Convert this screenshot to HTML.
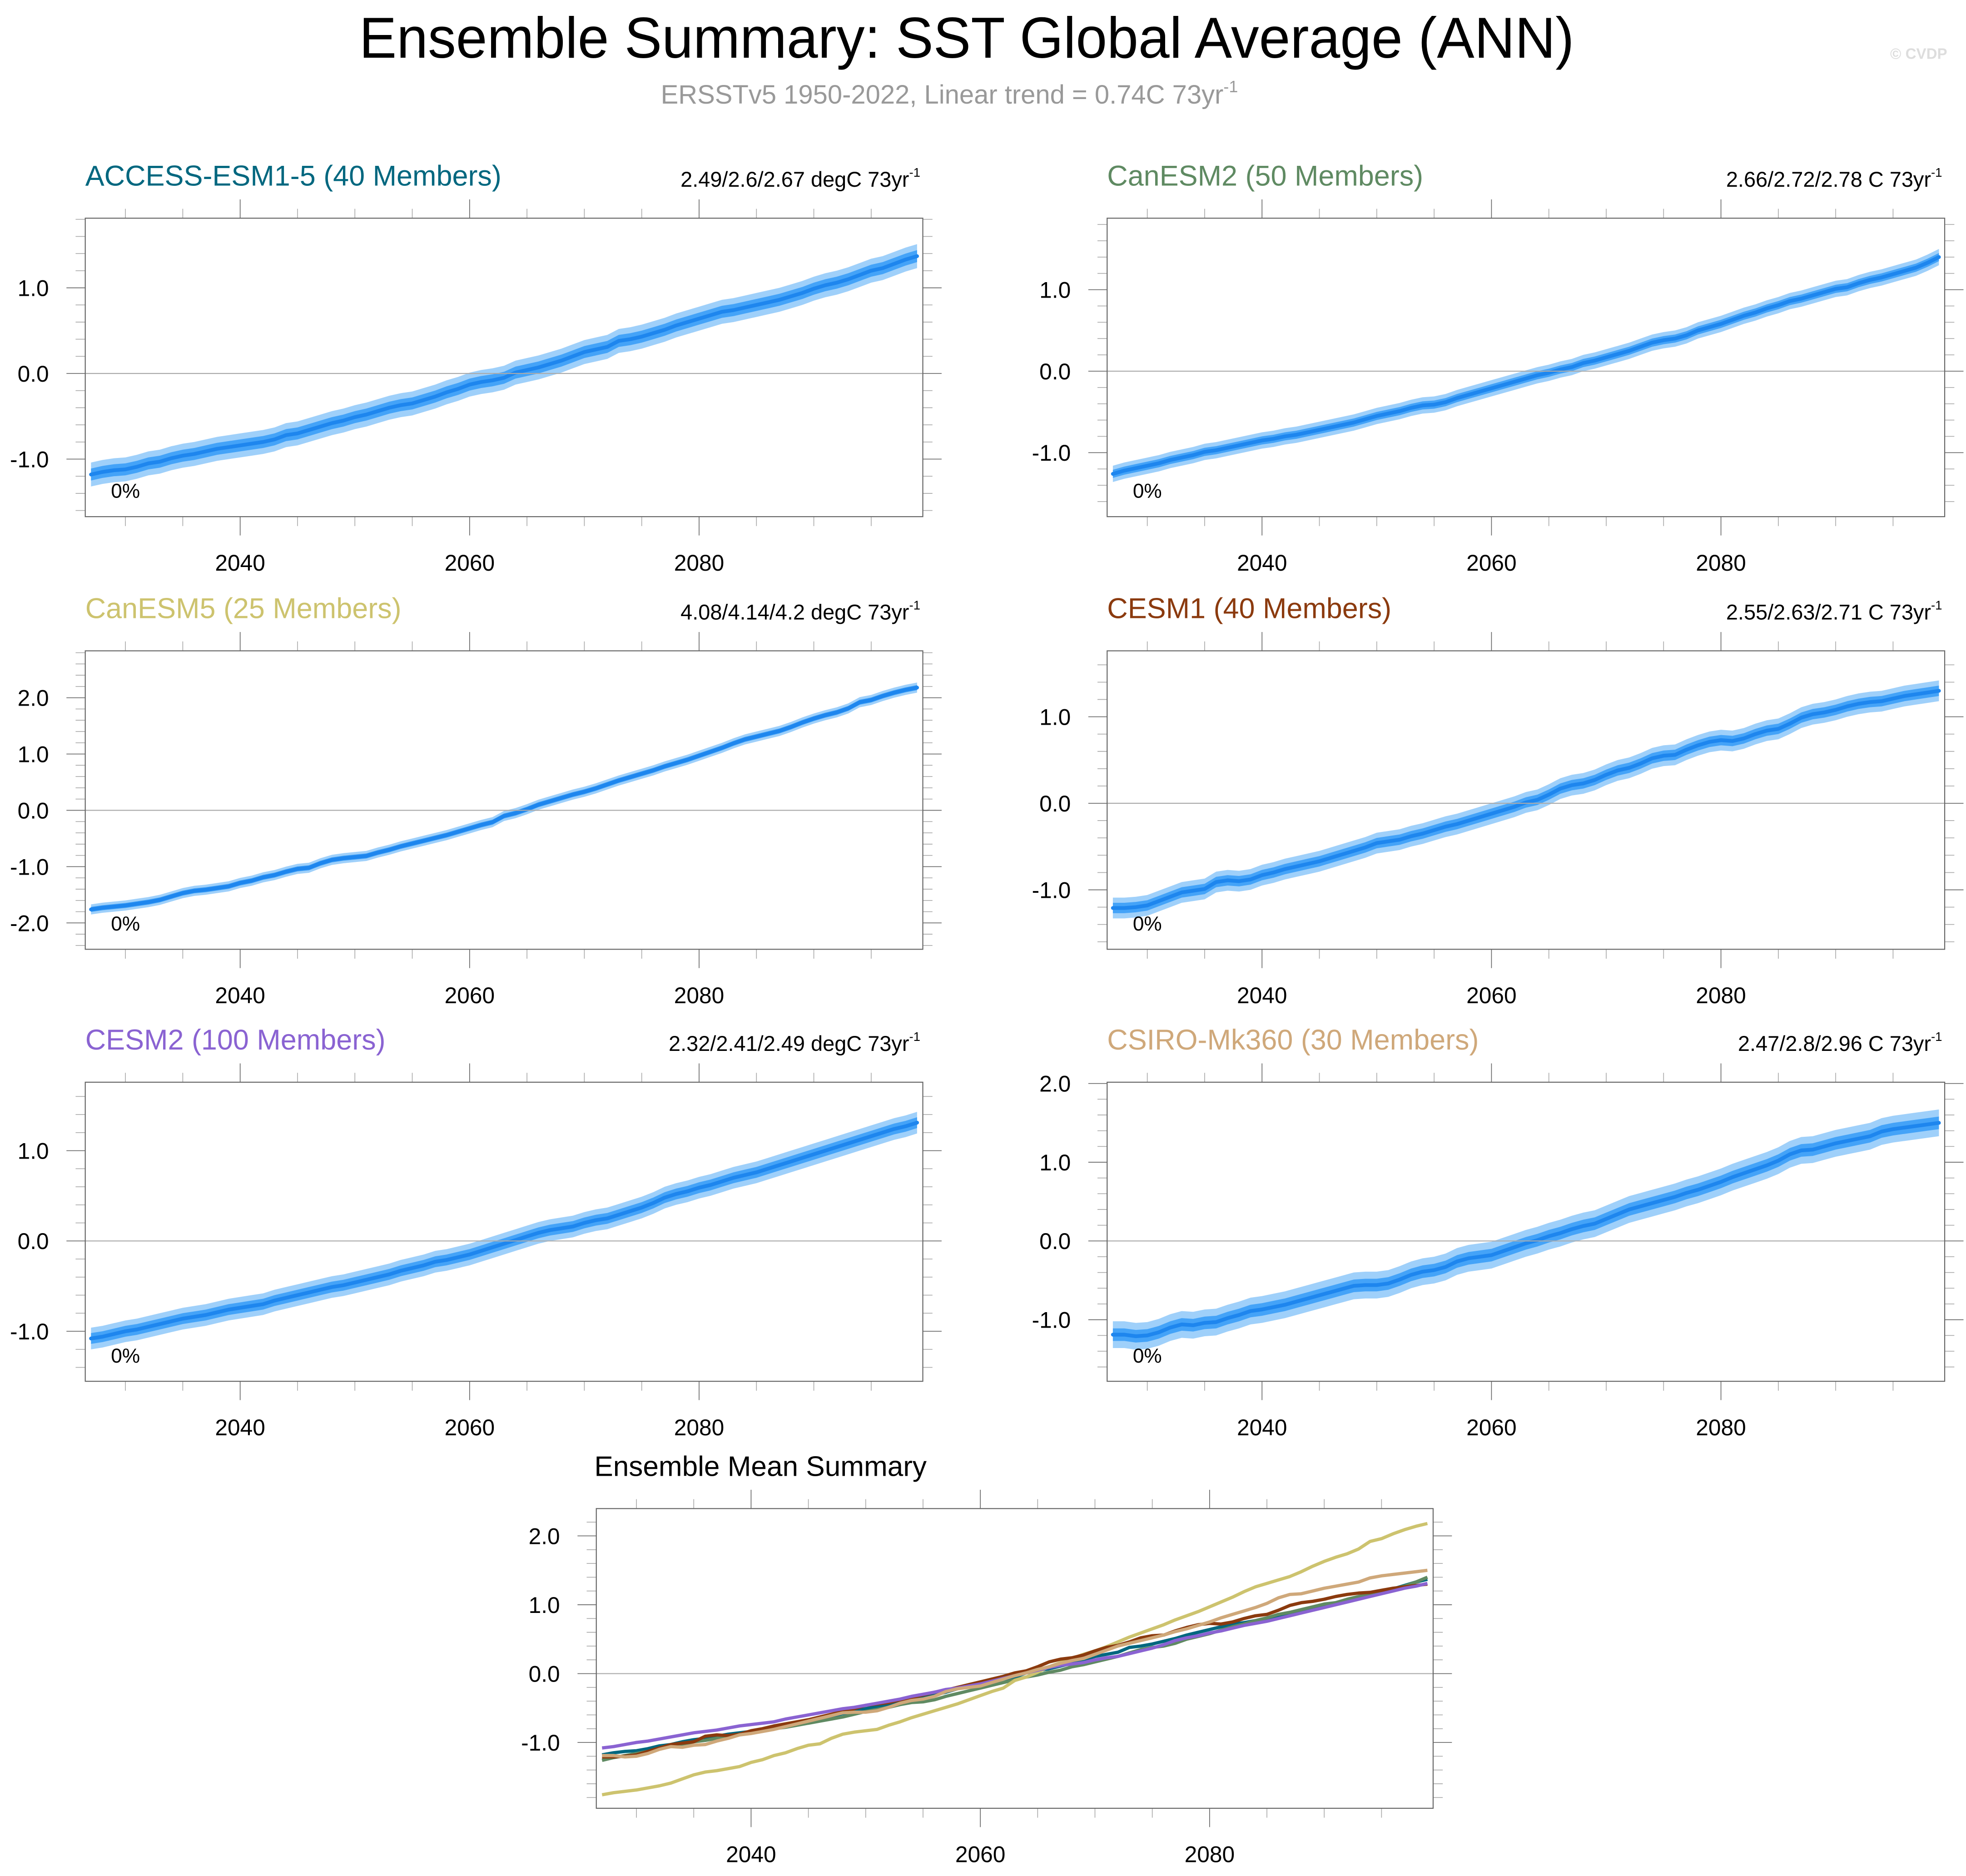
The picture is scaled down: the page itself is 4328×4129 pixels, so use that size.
<!DOCTYPE html>
<html>
<head>
<meta charset="utf-8">
<style>
  html,body{margin:0;padding:0;background:#fff;}
  svg{display:block;}
  text{font-family:"Liberation Sans",Arial,sans-serif;}
</style>
</head>
<body>
<svg id="chart" xmlns="http://www.w3.org/2000/svg" width="4328" height="4129" viewBox="0 0 1568 1496" preserveAspectRatio="none">
  <rect x="0" y="0" width="1568" height="1496" fill="#fff"/>
  <text x="771" y="46" font-size="46" text-anchor="middle" textLength="969" lengthAdjust="spacingAndGlyphs" fill="#000">Ensemble Summary: SST Global Average (ANN)</text>
  <text x="527" y="82.6" font-size="21" fill="#999">ERSSTv5 1950-2022, Linear trend = 0.74C 73yr<tspan font-size="13" dy="-9">-1</tspan></text>
  <text x="1553" y="47" font-size="12" text-anchor="end" fill="#ddd" font-weight="bold">© CVDP</text>
</svg>
<script>
// ---- Data (ensemble means, years 2027..2099) ----
const startYear = 2027;
const xTickLabels = ["2040","2060","2080"];
const yTickMajor = [-2, -1, 0, 1, 2];
const modelNames = ["ACCESS-ESM1-5 (40 Members)","CanESM2 (50 Members)","CanESM5 (25 Members)","CESM1 (40 Members)","CESM2 (100 Members)","CSIRO-Mk360 (30 Members)"];
const trendLabels = ["2.49/2.6/2.67 degC 73yr","2.66/2.72/2.78 C 73yr","4.08/4.14/4.2 degC 73yr","2.55/2.63/2.71 C 73yr","2.32/2.41/2.49 degC 73yr","2.47/2.8/2.96 C 73yr"];
const pctLabels = ["0%","0%","0%","0%","0%","0%"];
const innerHalf = [0.07, 0.05, 0.045, 0.06, 0.06, 0.08];
const outerHalf = [0.14, 0.10, 0.09, 0.12, 0.12, 0.17];

const accessMean = [-1.18,-1.15,-1.13,-1.12,-1.09,-1.05,-1.03,-0.99,-0.96,-0.94,
-0.91,-0.88,-0.86,-0.84,-0.82,-0.80,-0.77,-0.72,-0.70,-0.66,
-0.62,-0.58,-0.55,-0.51,-0.48,-0.44,-0.40,-0.37,-0.35,-0.31,
-0.27,-0.22,-0.18,-0.13,-0.10,-0.08,-0.05,0.01,0.04,0.07,
0.11,0.15,0.20,0.25,0.28,0.31,0.38,0.40,0.43,0.47,
0.51,0.56,0.60,0.64,0.68,0.72,0.74,0.77,0.80,0.83,
0.86,0.90,0.94,0.99,1.03,1.06,1.10,1.15,1.20,1.23,
1.28,1.33,1.37];
const canesm2Mean = [-1.26,-1.22,-1.19,-1.16,-1.13,-1.09,-1.06,-1.03,-0.99,-0.97,
-0.94,-0.91,-0.88,-0.85,-0.83,-0.80,-0.78,-0.75,-0.72,-0.69,
-0.66,-0.63,-0.59,-0.55,-0.52,-0.49,-0.45,-0.42,-0.41,-0.38,
-0.33,-0.29,-0.25,-0.21,-0.17,-0.13,-0.09,-0.05,-0.02,0.02,
0.05,0.10,0.13,0.17,0.21,0.25,0.30,0.35,0.38,0.40,
0.44,0.50,0.54,0.58,0.63,0.68,0.72,0.77,0.81,0.86,
0.89,0.93,0.97,1.01,1.03,1.08,1.12,1.15,1.19,1.23,
1.27,1.33,1.40];
const canesm5Mean = [-1.76,-1.73,-1.71,-1.69,-1.66,-1.63,-1.59,-1.53,-1.47,
-1.43,-1.41,-1.38,-1.35,-1.29,-1.25,-1.19,-1.15,-1.09,
-1.04,-1.02,-0.94,-0.88,-0.85,-0.83,-0.81,-0.75,-0.70,
-0.64,-0.59,-0.54,-0.49,-0.44,-0.38,-0.32,-0.26,-0.21,
-0.10,-0.05,0.02,0.10,0.16,0.22,0.28,0.33,0.39,
0.46,0.53,0.59,0.65,0.71,0.78,0.84,0.90,0.97,
1.04,1.11,1.19,1.26,1.31,1.36,1.41,1.48,1.56,
1.63,1.69,1.74,1.81,1.92,1.96,2.03,2.09,2.14,2.18];
const cesm1Mean = [-1.21,-1.21,-1.20,-1.18,-1.13,-1.08,-1.03,-1.01,-0.99,
-0.91,-0.89,-0.90,-0.88,-0.83,-0.80,-0.76,-0.73,-0.70,
-0.67,-0.63,-0.59,-0.55,-0.51,-0.46,-0.44,-0.42,-0.38,
-0.35,-0.31,-0.27,-0.24,-0.20,-0.16,-0.12,-0.08,-0.04,
0.01,0.04,0.10,0.17,0.21,0.23,0.27,0.33,0.38,
0.41,0.46,0.52,0.55,0.56,0.62,0.67,0.71,0.73,
0.72,0.75,0.80,0.84,0.86,0.92,0.99,1.03,1.05,
1.08,1.12,1.15,1.17,1.18,1.21,1.24,1.26,1.28,1.30];
const cesm2Mean = [-1.08,-1.06,-1.03,-1.00,-0.98,-0.95,-0.92,-0.89,-0.86,
-0.84,-0.82,-0.79,-0.76,-0.74,-0.72,-0.70,-0.66,-0.63,
-0.60,-0.57,-0.54,-0.51,-0.49,-0.46,-0.43,-0.40,-0.37,
-0.33,-0.30,-0.27,-0.23,-0.21,-0.18,-0.15,-0.11,-0.07,
-0.03,0.01,0.05,0.09,0.12,0.14,0.16,0.20,0.23,
0.25,0.29,0.33,0.37,0.42,0.48,0.52,0.55,0.59,
0.62,0.66,0.70,0.73,0.76,0.80,0.84,0.88,0.92,
0.96,1.00,1.04,1.08,1.12,1.16,1.20,1.24,1.27,1.31];
const csiroMean = [-1.19,-1.19,-1.21,-1.20,-1.16,-1.10,-1.06,-1.07,-1.04,
-1.03,-0.98,-0.94,-0.89,-0.87,-0.84,-0.81,-0.77,-0.73,
-0.69,-0.65,-0.61,-0.57,-0.56,-0.56,-0.54,-0.49,-0.43,
-0.39,-0.37,-0.33,-0.26,-0.22,-0.20,-0.18,-0.13,-0.08,
-0.03,0.01,0.06,0.10,0.15,0.19,0.22,0.28,0.34,
0.40,0.44,0.48,0.52,0.56,0.61,0.65,0.70,0.75,
0.81,0.86,0.91,0.96,1.02,1.10,1.15,1.16,1.20,
1.24,1.27,1.30,1.33,1.39,1.42,1.44,1.46,1.48,1.50];

const modelSeries = [accessMean, canesm2Mean, canesm5Mean, cesm1Mean, cesm2Mean, csiroMean];
const modelColors = ["#00677f","#5f8a62","#cdc36e","#8b3a0e","#8a63d2","#cfa87a"];

// ---- Layout (display units) ----
const panels = [
  {x0:68,  x1:736,  y0:174, y1:412,   yMin:-1.672, yMax:1.813},
  {x0:883, x1:1551, y0:174, y1:412,   yMin:-1.785, yMax:1.877},
  {x0:68,  x1:736,  y0:519, y1:757,   yMin:-2.468, yMax:2.833},
  {x0:883, x1:1551, y0:519, y1:757,   yMin:-1.687, yMax:1.762},
  {x0:68,  x1:736,  y0:863, y1:1101.5,yMin:-1.554, yMax:1.758},
  {x0:883, x1:1551, y0:863, y1:1101.5,yMin:-1.782, yMax:2.016}
];
const meanPanel = {x0:475.6, x1:1143, y0:1203, y1:1442, yMin:-1.956, yMax:2.397};
const xMinYear = 2026.5, xMaxYear = 2099.5;

const NS = "http://www.w3.org/2000/svg";
const svg = document.getElementById("chart");
function mk(tag, attrs, parent){
  const e = document.createElementNS(NS, tag);
  for (const k in attrs) e.setAttribute(k, attrs[k]);
  (parent||svg).appendChild(e);
  return e;
}
function xScale(p, yr){ return p.x0 + (yr - xMinYear) / (xMaxYear - xMinYear) * (p.x1 - p.x0); }
function yScale(p, v){ return p.y1 - (v - p.yMin) / (p.yMax - p.yMin) * (p.y1 - p.y0); }

function drawAxes(p, g){
  const zl = mk("line", {x1:p.x0, x2:p.x1, y1:yScale(p,0), y2:yScale(p,0), stroke:"#aaa", "stroke-width":0.8}, g);
  
  
  for (let yr = 2030; yr <= 2095; yr += 5){
    const major = (yr % 20 === 0);
    const len = major ? 15 : 7.5;
    const x = xScale(p, yr);
    mk("line", {x1:x, x2:x, y1:p.y0, y2:p.y0-len, stroke: major?"#666":"#aaa", "stroke-width":0.6}, g);
    mk("line", {x1:x, x2:x, y1:p.y1, y2:p.y1+len, stroke: major?"#666":"#aaa", "stroke-width":0.6}, g);
  }
  xTickLabels.forEach(lbl => {
    const t = mk("text", {x:xScale(p, +lbl), y:p.y1+43, "font-size":18, "text-anchor":"middle", fill:"#000"}, g);
    t.textContent = lbl;
    
    
  });
  for (let k = Math.ceil(p.yMin*5); k <= Math.floor(p.yMax*5); k++){
    if (k % 5 === 0) continue;
    const y = yScale(p, k/5);
    mk("line", {x1:p.x0, x2:p.x0-7.7, y1:y, y2:y, stroke:"#aaa", "stroke-width":0.6}, g);
    mk("line", {x1:p.x1, x2:p.x1+7.7, y1:y, y2:y, stroke:"#aaa", "stroke-width":0.6}, g);
  }
  yTickMajor.forEach(v => {
    if (v < p.yMin - 0.01 || v > p.yMax + 0.02) return;
    const y = yScale(p, v);
    mk("line", {x1:p.x0, x2:p.x0-15, y1:y, y2:y, stroke:"#666", "stroke-width":0.6}, g);
    mk("line", {x1:p.x1, x2:p.x1+15, y1:y, y2:y, stroke:"#666", "stroke-width":0.6}, g);
    const t = mk("text", {x:p.x0-29, y:y+6.5, "font-size":18, "text-anchor":"end", fill:"#000"}, g);
    t.textContent = v.toFixed(1);
    
    
  });
  const border = mk("rect", {x:p.x0, y:p.y0, width:p.x1-p.x0, height:p.y1-p.y0, fill:"none", stroke:"#666", "stroke-width":0.8}, g);
  
  
}

function bandPath(p, vals, half){
  let up = [], dn = [];
  vals.forEach((v,i) => {
    const x = xScale(p, startYear+i);
    up.push(x.toFixed(2)+","+yScale(p, v+half).toFixed(2));
    dn.push(x.toFixed(2)+","+yScale(p, v-half).toFixed(2));
  });
  return "M" + up.join(" L") + " L" + dn.reverse().join(" L") + " Z";
}
function linePath(p, vals){
  return "M" + vals.map((v,i) => xScale(p, startYear+i).toFixed(2)+","+yScale(p, v).toFixed(2)).join(" L");
}

panels.forEach((p, m) => {
  const g = mk("g", {});
  
  
  const vals = modelSeries[m];
  const ob = mk("path", {d:bandPath(p, vals, outerHalf[m]), fill:"#9fd0fa", stroke:"none"}, g);
  
  
  const ib = mk("path", {d:bandPath(p, vals, innerHalf[m]), fill:"#44a3f8", stroke:"none"}, g);
  
  
  const ln = mk("path", {d:linePath(p, vals), fill:"none", stroke:"#1e86ee", "stroke-width":3, "stroke-linejoin":"round", "stroke-linecap":"round"}, g);
  
  
  drawAxes(p, g);
  const title = mk("text", {x:p.x0, y:p.y0-26, "font-size":22.8, fill:modelColors[m]}, g);
  title.textContent = modelNames[m];
  
  
  const st = mk("text", {x:p.x1-2, y:p.y0-25, "font-size":17, "text-anchor":"end", fill:"#000"}, g);
  
  
  const t1 = mk("tspan", {}, st); t1.textContent = trendLabels[m];
  const t2 = mk("tspan", {"font-size":10, dy:-8}, st); t2.textContent = "-1";
  const pc = mk("text", {x:p.x0+20.5, y:p.y1-15, "font-size":16, fill:"#000"}, g);
  pc.textContent = pctLabels[m];
  
  
});

// ---- Ensemble mean summary ----
(function(){
  const p = meanPanel;
  const g = mk("g", {});
  
  
  drawAxes(p, g);
  modelSeries.forEach((vals, m) => {
    const ln = mk("path", {d:linePath(p, vals), fill:"none", stroke:modelColors[m], "stroke-width":2.6, "stroke-linejoin":"round"}, g);
    
    
  });
  const t = mk("text", {x:474, y:1177, "font-size":22.5, fill:"#000"}, g);
  t.textContent = "Ensemble Mean Summary";
  
  
})();
</script>
</body>
</html>
